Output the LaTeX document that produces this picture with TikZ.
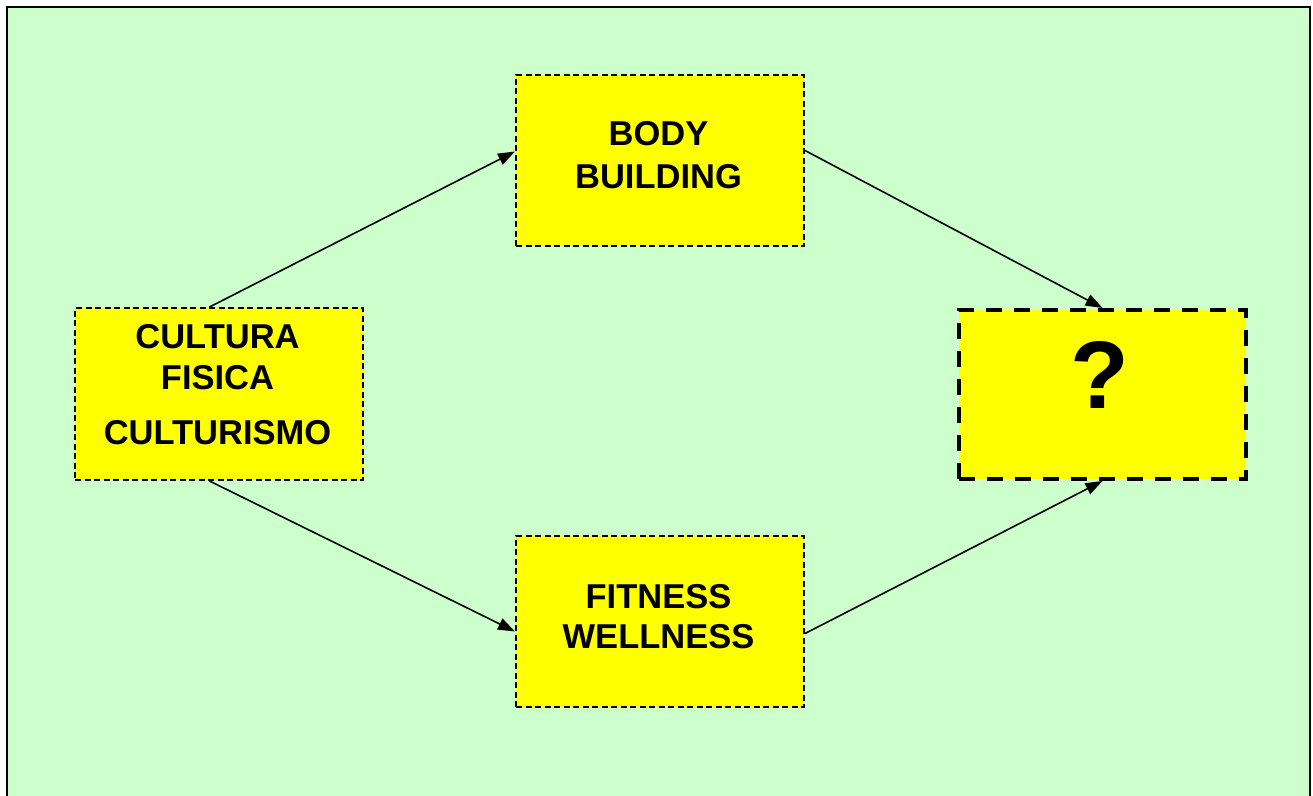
\documentclass[tikz,border=0pt]{standalone}
\usepackage{fontspec}
\setmainfont{Liberation Sans}
\usetikzlibrary{arrows.meta}
\definecolor{bgreen}{HTML}{CCFFCC}
\definecolor{byellow}{HTML}{FFFF00}
\begin{document}
\begin{tikzpicture}[x=1pt,y=-1pt,
  box/.style={draw=black, fill=byellow, line width=2pt, dash pattern=on 6pt off 3.5pt,
    minimum width=288pt, minimum height=171pt, inner sep=0pt, anchor=north west},
  qbox/.style={box, line width=4pt, dash pattern=on 16pt off 12pt},
  lbl/.style={font=\bfseries\fontsize{34.5}{40}\selectfont, anchor=base, inner sep=0pt},
  qlbl/.style={font=\bfseries\fontsize{96}{100}\selectfont, anchor=base, inner sep=0pt},
  conn/.style={line width=1.6pt, -{Triangle[length=17pt,width=12pt]}}]
\useasboundingbox (0,0) rectangle (1313,795);
\clip (0,0) rectangle (1313,795);
\fill[white] (0,0) rectangle (1313,795);
\draw[fill=bgreen, line width=2pt] (7,7) rectangle (1310,815);

\node[box, minimum height=172pt] (cult) at (74,307) {};
\node[box] (body) at (515,74) {};
\node[box] (fit) at (515,535) {};
\node[qbox, minimum width=287pt, minimum height=169pt] (q) at (957,308) {};

\node[lbl] (c1) at (217.5,348) {CULTURA};
\node[lbl] (c2) at (217.5,389) {FISICA};
\node[lbl] (c3) at (217.5,444) {CULTURISMO};
\node[lbl] (b1) at (658.5,145) {BODY};
\node[lbl] (b2) at (658.5,188) {BUILDING};
\node[lbl] (f1) at (658.5,608) {FITNESS};
\node[lbl] (f2) at (658.5,648) {WELLNESS};
\node[qlbl] (qm) at (1100,408) {?};

\draw[conn] ([xshift=-9.5pt]cult.north) -- ([yshift=9pt]body.west);
\draw[conn] ([yshift=10pt]body.east) -- (q.north);
\draw[conn] ([xshift=-9.5pt]cult.south) -- ([yshift=-10pt]fit.west);
\draw[conn] ([yshift=-12pt]fit.east) -- (q.south);
\end{tikzpicture}
\end{document}
